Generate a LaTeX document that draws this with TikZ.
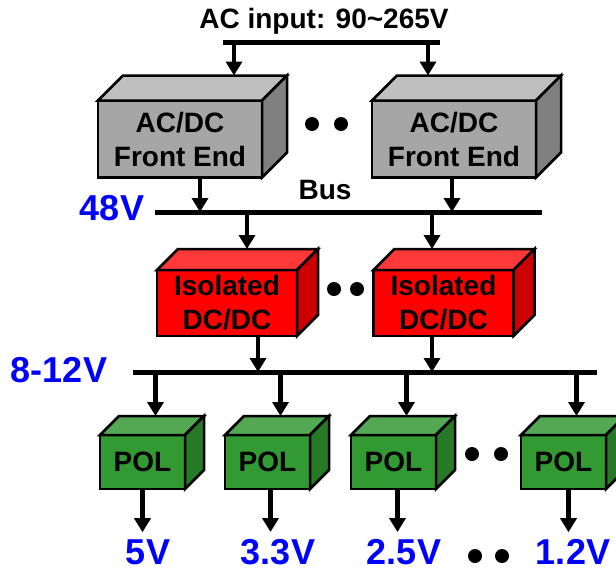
\documentclass[tikz,border=0pt]{standalone}
\usepackage{fontspec}
\setmainfont{Liberation Sans}
\usetikzlibrary{arrows.meta,calc}
\definecolor{feface}{RGB}{166,166,166}
\definecolor{fetop}{RGB}{191,191,191}
\definecolor{feside}{RGB}{128,128,128}
\definecolor{isoface}{RGB}{255,0,0}
\definecolor{isotop}{RGB}{255,56,56}
\definecolor{isoside}{RGB}{204,0,0}
\definecolor{polface}{RGB}{51,153,51}
\definecolor{poltop}{RGB}{84,168,84}
\definecolor{polside}{RGB}{38,122,38}
\definecolor{vblue}{RGB}{0,0,255}
\tikzset{
  boxline/.style={draw=black,line width=2.5pt},
  front/.style={boxline,inner sep=0pt,outer sep=0pt,align=center,
    font=\fontsize{28}{34}\selectfont\bfseries},
  arr/.style={line width=4.5pt,-{Triangle[width=16pt,length=14pt]}},
  bus/.style={line width=5pt},
  volt/.style={text=vblue,inner sep=0pt,
    font=\fontsize{36}{36}\selectfont\bfseries},
  dot/.style={circle,fill=black,inner sep=0pt,minimum size=14pt},
}
% top and side faces of a box: node, depth, top colour, side colour
\newcommand{\boxfaces}[4]{%
  \draw[boxline,fill=#3] (#1.north west) -- ++(#2,-#2) -- ($(#1.north east)+(#2,-#2)$) -- (#1.north east) -- cycle;
  \draw[boxline,fill=#4] (#1.north east) -- ++(#2,-#2) -- ($(#1.south east)+(#2,-#2)$) -- (#1.south east) -- cycle;}
\begin{document}
\begin{tikzpicture}[x=1pt,y=-1pt]
\useasboundingbox (0,0) rectangle (616,571);
% AC input
\node (acin) at (324,21) [font=\fontsize{28}{28}\selectfont\bfseries]{AC input: 90\textasciitilde265V};
\coordinate (acw) at (223,42);
\coordinate (ace) at (440,42);
\draw[bus] (acw) -- (ace);
% front ends
\node[front,fill=feface,minimum width=164pt,minimum height=77pt] (fe1) at (180,139){AC/DC\\Front End};
\boxfaces{fe1}{25}{fetop}{feside}
\node[front,fill=feface,minimum width=164pt,minimum height=77pt] (fe2) at (454,139){AC/DC\\Front End};
\boxfaces{fe2}{25}{fetop}{feside}
\node[dot] (d1) at (312,124){};
\node[dot] (d2) at (341,124){};
\coordinate (fe1in) at ([xshift=54pt,yshift=25pt]fe1.north);
\coordinate (fe2in) at ([xshift=-26pt,yshift=25pt]fe2.north);
\draw[arr] (fe1in |- acw) -- (fe1in);
\draw[arr] (fe2in |- acw) -- (fe2in);
% 48V bus
\coordinate (b1w) at (155,212);
\coordinate (b1e) at (542,212);
\draw[bus] (b1w) -- (b1e);
\node[volt] (v48) at (112,208){48V};
\node (busl) at (325,190) [font=\fontsize{28}{28}\selectfont\bfseries]{Bus};
\coordinate (fe1out) at ([xshift=20pt]fe1.south);
\coordinate (fe2out) at ([xshift=-2pt]fe2.south);
\draw[arr] (fe1out) -- (fe1out |- b1w);
\draw[arr] (fe2out) -- (fe2out |- b1w);
% isolated converters
\node[front,fill=isoface,minimum width=140pt,minimum height=66pt] (iso1) at (227,303){Isolated\\DC/DC};
\boxfaces{iso1}{21}{isotop}{isoside}
\node[front,fill=isoface,minimum width=140pt,minimum height=66pt] (iso2) at (443.5,303){Isolated\\DC/DC};
\boxfaces{iso2}{21}{isotop}{isoside}
\node[dot] (d3) at (334,289){};
\node[dot] (d4) at (357,289){};
\coordinate (iso1in) at ([xshift=20pt,yshift=21pt]iso1.north);
\coordinate (iso2in) at ([xshift=-11.5pt,yshift=21pt]iso2.north);
\draw[arr] (iso1in |- b1w) -- (iso1in);
\draw[arr] (iso2in |- b1w) -- (iso2in);
% 8-12V bus
\coordinate (b2w) at (133,372);
\coordinate (b2e) at (597,372);
\draw[bus] (b2w) -- (b2e);
\node[volt] (v812) at (59,370){8-12V};
\coordinate (iso1out) at ([xshift=31pt]iso1.south);
\coordinate (iso2out) at ([xshift=-11.5pt]iso2.south);
\draw[arr] (iso1out) -- (iso1out |- b2w);
\draw[arr] (iso2out) -- (iso2out |- b2w);
% POL stages
\foreach \n/\x/\v/\vx/\s in {1/142.5/5V/148/0,2/267.5/3.3V/278/3,3/393.5/2.5V/404/4,4/563.5/1.2V/573/5}{
  \node[front,fill=polface,minimum width=85pt,minimum height=54pt] (pol\n) at (\x,462){POL};
  \boxfaces{pol\n}{19}{poltop}{polside}
  \coordinate (pol\n-in) at ([xshift=13pt,yshift=19pt]pol\n.north);
  \draw[arr] (pol\n-in |- b2w) -- (pol\n-in);
  \node[volt] (v\n) at (\vx,552){\v};
  \coordinate (v\n-top) at ([yshift=7pt]v\n.north);
  \coordinate (pol\n-out) at ([xshift=\s pt]pol\n.south);
  \draw[arr] (pol\n-out) -- (pol\n-out |- v\n-top);
}
\node[dot] (d5) at (472,454){};
\node[dot] (d6) at (501,454){};
\node[dot] (d7) at (475,556){};
\node[dot] (d8) at (502,556){};
\end{tikzpicture}
\end{document}
